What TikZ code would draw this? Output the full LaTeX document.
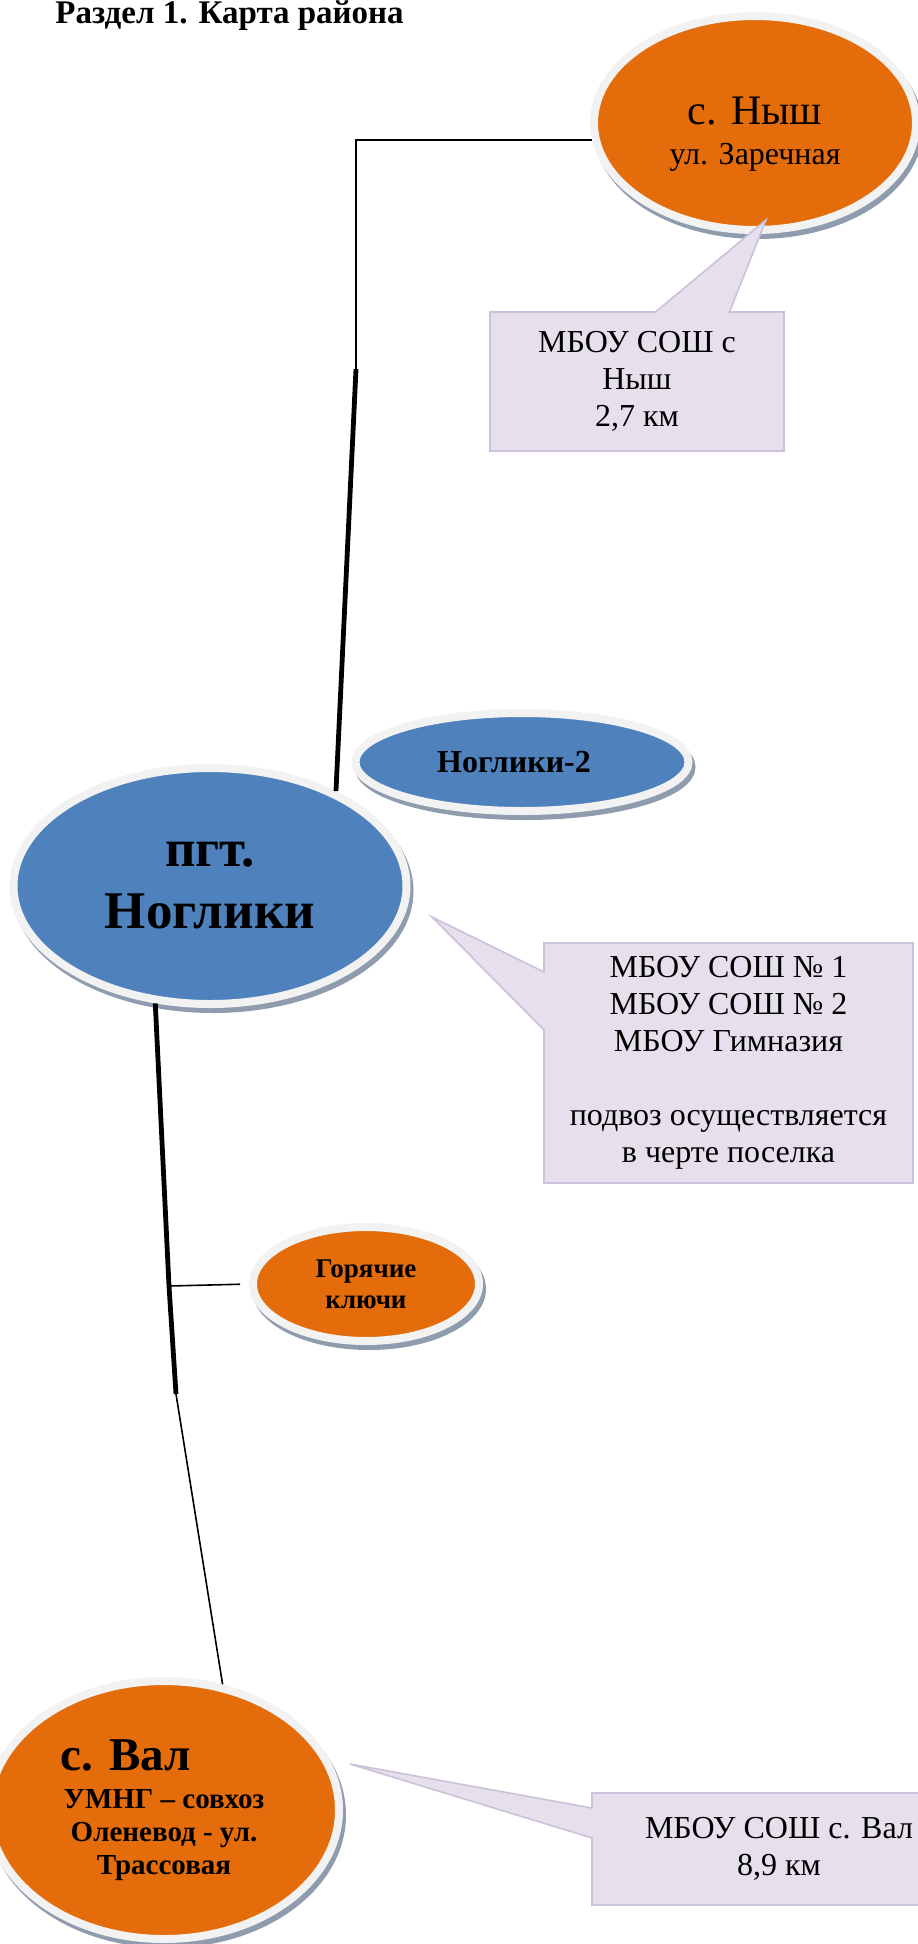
\documentclass[tikz,border=0pt]{standalone}
\usepackage{fontspec}
\setmainfont{Liberation Serif}
\usetikzlibrary{positioning,shapes.geometric,shapes.callouts,shadows}

\definecolor{orangefill}{HTML}{E46C0A}
\definecolor{bluefill}{HTML}{4F81BD}
\definecolor{rimgray}{HTML}{F2F2F2}
\definecolor{shadowgray}{HTML}{8E9CAE}
\definecolor{notefill}{HTML}{E5E0EC}
\definecolor{noteline}{HTML}{CCC1DA}

\tikzset{
  settl/.style={ellipse, draw=rimgray, line width=4pt, inner sep=0pt, align=center,
    drop shadow={shadow xshift=1.5pt, shadow yshift=-2.5pt, fill=shadowgray, draw=shadowgray, opacity=1}},
  orangeset/.style={settl, fill=orangefill},
  blueset/.style={settl, fill=bluefill},
  note/.style={rectangle callout, fill=notefill, draw=noteline, line width=.8pt,
    inner sep=0pt, align=center, font=\fontsize{16}{18.5}\selectfont},
  road/.style={line width=.8pt},
  mainroad/.style={line width=2.4pt},
}

\begin{document}
\begin{tikzpicture}[x=0.5pt,y=-0.5pt]
\useasboundingbox (0,0) rectangle (917,1944);
\node (title) [anchor=base west, inner sep=0pt, font=\fontsize{16.5}{20}\selectfont\bfseries] at (55,23) {Раздел 1. Карта района};

% settlements
\node[orangeset, minimum width=161pt, minimum height=107pt] (nysh) at (755,123) {};
\node (nyshname) [inner sep=0pt, align=center, font=\fontsize{16}{20}\selectfont] at (755,134) {{\fontsize{21}{20}\selectfont с. Ныш}\\ул. Заречная};
\node[blueset, minimum width=196.5pt, minimum height=118pt, font=\fontsize{26.5}{31}\selectfont\bfseries] (noglik) at (210,886) {пгт.\\Ноглики};
\node[blueset, minimum width=166.5pt, minimum height=49pt, font=\fontsize{16}{19}\selectfont\bfseries] (noglik2) at (522,762) {Ноглики-2\hspace*{8pt}};
\node[orangeset, minimum width=113pt, minimum height=57pt, font=\fontsize{13.5}{15.5}\selectfont\bfseries] (gor) at (366,1284) {Горячие\\ключи};
\node[orangeset, minimum width=175pt, minimum height=129pt, font=\fontsize{14.5}{16.5}\selectfont\bfseries] (val) at (164,1810)
  {\makebox[103pt][l]{\fontsize{23.5}{19}\selectfont с. Вал}\\[2.5pt]УМНГ – совхоз\\Оленевод - ул.\\Трассовая};

% schools
\coordinate (nyshtip) at (766,220);
\coordinate (nogliktip) at (432,917);
\coordinate (valtip) at (350,1764);
\node[note, minimum width=147pt, minimum height=69.5pt, callout absolute pointer={(nyshtip)}, callout pointer width=37pt] (nyshschool) at (637,381.5) {МБОУ СОШ с\\Ныш\\2,7 км};
\node[note, minimum width=184.5pt, minimum height=120pt, callout absolute pointer={(nogliktip)}, callout pointer width=29pt] (noglikschool) at (728.5,1063)
  {МБОУ СОШ № 1\\МБОУ СОШ № 2\\МБОУ Гимназия\\[18.5pt]подвоз осуществляется\\в черте поселка};
\node[note, minimum width=187pt, minimum height=56pt, callout absolute pointer={(valtip)}, callout pointer width=15pt] (valschool) at (779,1849) {МБОУ СОШ с. Вал\\8,9 км};

% roads
\coordinate (turn) at (356,369);
\coordinate (fork) at (169,1286);
\coordinate (valturn) at (176,1394);
\draw[road] (nysh.186) -| (turn);
\draw[mainroad] (turn) -- (noglik.37);
\draw[mainroad] (noglik.245) -- (fork) -- (valturn);
\draw[road, shorten >=4.5pt] (fork) -- (gor.west);
\draw[road] (valturn) -- (val.65);
\end{tikzpicture}
\end{document}
